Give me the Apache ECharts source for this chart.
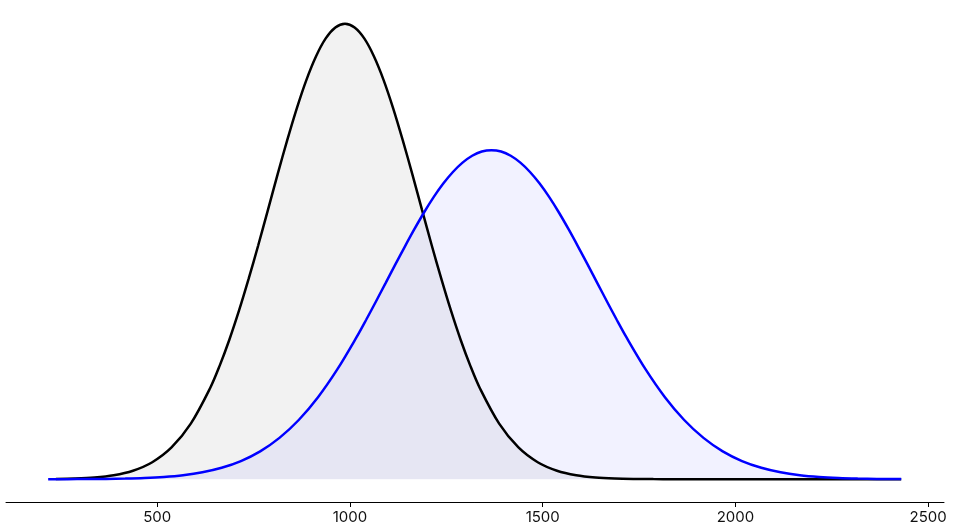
<!DOCTYPE html>
<html>
<head>
<meta charset="utf-8">
<script src="https://cdn.jsdelivr.net/npm/echarts@6/dist/echarts.min.js"></script>
<style>html,body{margin:0;padding:0;background:#fff}#c{width:965px;height:530px}</style>
</head>
<body>
<div id="c"></div>
<script>
const blackX = [237,287,337,387,437,487,537,587,
  637,662,687,712,737,762,787,812,837,862,887,912,937,962,987,1012,1037,1062,1087,1112,1137,1162,1187,1212,1237,1262,1287,1312,1337,
  1387,1437,1487,1537,1587,1637,1687,1737,1787,1837,1887,1937,
  1987,2037,2087,2137,2187,2237,2287,2337,2387,2430];
const blackValues = [0.0125,0.0326,0.0791,0.180,0.383,0.764,1.427,2.496,
  4.087,5.102,6.265,7.569,8.995,10.51,12.09,13.68,15.22,16.66,17.94,19.00,19.80,20.29,20.46,20.29,19.80,19.00,17.94,16.66,15.22,13.68,12.09,10.51,8.995,7.569,6.265,5.102,4.087,
  2.496,1.427,0.764,0.383,0.180,0.0791,0.0326,0.0125,0.0045,0.0015,0.0005,0.0001,
  0,0,0,0,0,0,0,0,0,0];
const blueX = [217,267,317,367,417,467,517,567,617,667,717,767,817,867,917,967,
  1017,1042,1067,1092,1117,1142,1167,1192,1217,1242,1267,1292,1317,1342,1367,1392,1417,1442,1467,1492,1517,1542,1567,1592,1617,1642,1667,1692,1717,
  1767,1817,1867,1917,1967,2017,2067,2117,2167,2217,2267,2317,2367,2417,2430];
const blueValues = [0.0017,0.0037,0.0077,0.0155,0.0303,0.0571,0.104,0.183,0.312,0.513,0.815,1.251,1.856,2.660,3.685,4.933,
  6.379,7.162,7.973,8.799,9.627,10.44,11.23,11.98,12.67,13.28,13.80,14.22,14.53,14.72,14.78,14.72,14.53,14.22,13.80,13.28,12.67,11.98,11.23,10.44,9.627,8.799,7.973,7.162,6.379,
  4.933,3.685,2.660,1.856,1.251,0.815,0.513,0.312,0.183,0.104,0.0571,0.0303,0.0155,0.0077,0.0064];
const tickLabels = [500,1000,1500,2000,2500];

const chart = echarts.init(document.getElementById('c'), null, {renderer:'canvas'});
const pair = (xs, ys) => xs.map((x,i)=>[x, ys[i]]);
chart.setOption({
  animation:false,
  grid:{left:6, right:21, top:1, bottom:28, containLabel:false},
  xAxis:{
    type:'value', min:107.6, max:2541,
    axisLine:{show:true, onZero:false, lineStyle:{color:'#000', width:1}},
    axisTick:{show:true, length:5, lineStyle:{color:'#000'}, customValues:tickLabels},
    axisLabel:{show:true, color:'#111', fontSize:15, fontFamily:'Inter', margin:8,
      customValues:tickLabels, formatter:(v)=>String(v)},
    splitLine:{show:false}
  },
  yAxis:{
    type:'value', min:-1.023, max:21.48, show:false,
    splitLine:{show:false}
  },
  series:[
    {type:'line', data:pair(blackX, blackValues), showSymbol:false, smooth:0.33,
     lineStyle:{color:'#000', width:2.5},
     areaStyle:{color:'rgba(0,0,0,0.05)', opacity:1, origin:0}},
    {type:'line', data:pair(blueX, blueValues), showSymbol:false, smooth:0.33,
     lineStyle:{color:'#0000ff', width:2.5},
     areaStyle:{color:'rgba(0,0,255,0.05)', opacity:1, origin:0}}
  ]
});
</script>
</body>
</html>
